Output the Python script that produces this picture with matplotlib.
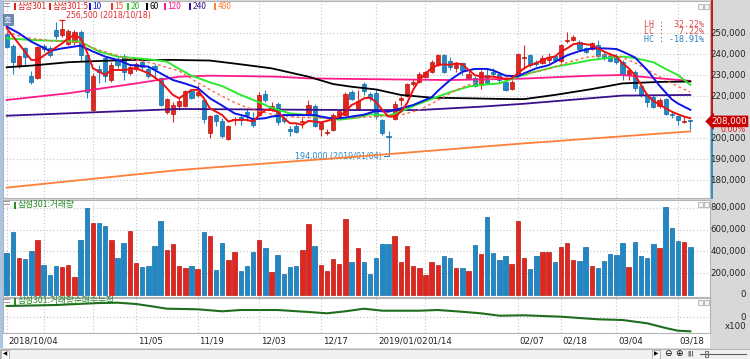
import matplotlib
matplotlib.use("Agg")
import matplotlib.pyplot as plt
import matplotlib.transforms as mtransforms
from matplotlib.patches import Rectangle

plt.rcParams['font.family'] = ['Noto Sans CJK KR', 'DejaVu Sans']

W, H = 750, 359
RED = '#e0261e'
RED_EDGE = '#b41a14'
BLUE = '#1f88c8'
BLUE_EDGE = '#176a9e'
GRID = '#c4c4c4'
TITLE_GREEN = '#2a8a2a'

# daily candles, 2018/10/04 .. 2019/03
opens = [249500, 244000, 235000, 243000, 229500, 228500, 244000, 243000, 251500, 249000,
         245000, 246000, 250500, 239500, 213500, 233000, 238000, 227500, 237500, 239000,
         231000, 233000, 236500, 233000, 234500, 228500, 212500, 211500, 215500, 215500,
         222500, 220500, 218000, 202500, 211000, 208000, 199500, 208500, 210000, 212500,
         209500, 211000, 221000, 213500, 216500, 209500, 204500, 206000, 207500, 211000,
         215500, 204500, 202500, 204000, 210000, 211000, 222000, 214000, 226000, 221000,
         221500, 208500, 201000, 209000, 218000, 220000, 226000, 227000, 229000, 231500,
         235000, 239500, 237000, 233500, 236000, 228500, 228500, 225500, 230000, 231500,
         230500, 227000, 223500, 230500, 238000, 239500, 236500, 236000, 237500, 239000,
         237000, 246500, 247000, 246000, 243000, 242500, 244500, 240000, 239000, 238500,
         236500, 230000, 231500, 225000, 220500, 219500, 215500, 218500, 211500, 210500,
         207500, 208500]
highs = [251000, 245000, 239500, 243500, 232000, 244000, 245000, 244000, 255500, 256500,
         252000, 251500, 251500, 240000, 231000, 235000, 238500, 236500, 239000, 240000,
         235000, 236500, 238000, 234500, 235500, 229000, 219000, 217000, 219000, 223000,
         223500, 225500, 219000, 211000, 211500, 209500, 206500, 210000, 211000, 214000,
         212500, 222000, 223000, 217000, 217000, 210500, 206000, 207000, 209500, 218000,
         216500, 208000, 204500, 212000, 213500, 222000, 223000, 223000, 227000, 222000,
         223000, 209000, 203500, 217500, 220000, 226500, 228000, 231500, 232000, 237500,
         240000, 240000, 238500, 236500, 236500, 232000, 229500, 232500, 233500, 233500,
         231500, 228500, 227500, 240500, 244500, 240000, 237500, 239500, 240500, 239500,
         245000, 250500, 249000, 247000, 243500, 246000, 247000, 241000, 240500, 240000,
         237500, 233000, 232500, 226000, 221500, 220500, 219000, 219000, 212500, 211000,
         210500, 208500]
lows = [243000, 230500, 233500, 235000, 226000, 228000, 241000, 238500, 247500, 248000,
        244500, 244500, 237000, 219000, 213000, 226500, 227000, 227000, 233500, 227500,
        230000, 232000, 232500, 228500, 229000, 215500, 211500, 207500, 213500, 215000,
        218500, 219500, 207000, 200000, 206000, 200000, 199000, 206500, 206500, 208000,
        205500, 210500, 217000, 213000, 206500, 207000, 201000, 202500, 205000, 210500,
        205500, 201000, 201500, 203500, 209500, 210500, 218000, 213500, 220500, 217500,
        209000, 201500, 194000, 208500, 215500, 219500, 225000, 226500, 228500, 231000,
        234500, 231000, 232500, 231500, 230000, 228000, 224500, 223500, 226000, 229000,
        226500, 222500, 223000, 230000, 233000, 234000, 234500, 235500, 236000, 236500,
        236000, 245500, 246500, 242000, 240500, 242000, 238000, 237500, 236500, 235500,
        227500, 227500, 222500, 219500, 215000, 214500, 214500, 211000, 209500, 206500,
        207000, 204000]
closes = [243500, 236500, 239000, 238500, 227000, 243500, 242500, 239500, 248500, 252000,
          251000, 250500, 239500, 222000, 229500, 231500, 229500, 235000, 235000, 231500,
          234000, 235500, 234000, 229500, 233000, 216000, 218500, 216000, 217500, 222500,
          219000, 222000, 209000, 210500, 208000, 201000, 206000, 209000, 208500, 211000,
          206500, 220500, 218000, 215500, 207500, 208000, 203500, 203000, 208000, 216000,
          206000, 207000, 203000, 211000, 213000, 221000, 218500, 217500, 222500, 219000,
          210500, 202500, 200500, 216500, 219000, 226000, 227000, 230500, 231500, 236500,
          239500, 231500, 234000, 235500, 232500, 230500, 225000, 231500, 226500, 230500,
          227500, 223000, 227000, 240000, 238500, 235000, 235500, 238000, 238500, 237500,
          244500, 247000, 248000, 242500, 241000, 245500, 239000, 238000, 237000, 236500,
          230500, 232500, 224000, 220500, 217000, 215000, 218000, 211500, 211000, 208500,
          208000, 208000]
volumes = [382000, 581000, 342000, 330000, 407000, 502000, 275000, 183000, 269000, 257000,
           275000, 162000, 502000, 795000, 660000, 660000, 630000, 508000, 336000, 474000,
           587000, 294000, 257000, 269000, 446000, 679000, 413000, 468000, 263000, 245000,
           263000, 239000, 581000, 544000, 226000, 477000, 324000, 391000, 220000, 269000,
           391000, 502000, 428000, 214000, 367000, 196000, 257000, 269000, 416000, 648000,
           446000, 275000, 220000, 330000, 287000, 697000, 300000, 434000, 306000, 196000,
           342000, 471000, 465000, 538000, 306000, 446000, 269000, 245000, 183000, 306000,
           275000, 361000, 336000, 251000, 251000, 220000, 459000, 379000, 716000, 385000,
           318000, 361000, 281000, 679000, 342000, 239000, 355000, 398000, 391000, 306000,
           440000, 477000, 324000, 312000, 440000, 269000, 245000, 312000, 379000, 367000,
           477000, 257000, 483000, 355000, 342000, 471000, 428000, 807000, 612000, 495000,
           483000, 440000]

# moving averages (bar index, price)
ma5_idx = [0, 4, 5, 7, 9, 10, 11, 12, 13, 14, 16, 17, 19, 21, 23, 25, 27, 28, 30, 31, 32, 33, 35, 36,
           37, 39, 40, 41, 42, 43, 44, 45, 46, 47, 48, 49, 50, 51, 52, 53, 54, 55, 56, 57, 58, 59, 60,
           61, 62, 63, 64, 65, 66, 67, 68, 69, 70, 71, 72, 73, 74, 75, 76, 77, 78, 79, 80, 81, 82, 83,
           84, 85, 86, 87, 88, 89, 90, 91, 92, 93, 94, 95, 96, 97, 98, 99, 100, 101, 102, 103, 104, 105,
           106, 107, 108, 109, 110, 111]
ma5_val = [252400, 237300, 237300, 241300, 245200, 247600, 249200, 247600, 241300, 233300, 230100,
           232500, 232500, 233300, 231000, 227000, 220600, 219000, 223000, 223000, 219000, 214200,
           211000, 207900, 208700, 208700, 207900, 211000, 213400, 213400, 212600, 209500, 207100,
           207100, 206300, 208200, 207900, 207500, 208200, 209100, 210300, 212600, 215800, 217100,
           219000, 219300, 217100, 213400, 210300, 210300, 212600, 216600, 223000, 227700, 230900,
           233300, 234900, 235200, 234900, 235700, 235200, 232500, 230100, 229300, 229300, 229300,
           228900, 228200, 228500, 230900, 233300, 234900, 235700, 237300, 238400, 238900, 241300,
           242800, 244800, 245200, 244800, 244400, 242800, 241300, 240000, 238900, 235700, 233300,
           230100, 225400, 220600, 217700, 216100, 214200, 212600, 211400, 210300, 209500]
ma10_idx = [0, 2, 4, 7, 9, 12, 14, 16, 18, 20, 23, 25, 27, 29, 31, 33, 35, 37, 39, 40, 42, 43, 45,
            48, 50, 51, 53, 55, 56, 58, 60, 62, 64, 66, 69, 70, 72, 74, 76, 78, 79, 81, 83, 84, 86,
            88, 91, 93, 95, 97, 99, 100, 102, 104, 106, 108, 109, 111]
ma10_val = [253200, 250000, 246000, 241600, 242800, 244100, 241300, 238900, 237300, 234900, 234100,
            230900, 227700, 226000, 224000, 219000, 215500, 211800, 210300, 209000, 209500, 210300,
            211000, 211000, 211000, 210300, 209300, 209800, 210300, 211200, 213000, 212600, 214200,
            215800, 219500, 222500, 227700, 231700, 233000, 233000, 232300, 229800, 229500, 230900,
            233300, 234800, 239500, 241500, 242800, 242800, 242500, 241300, 238500, 232500, 225000,
            218500, 216500, 213500]
ma15_idx = [0, 3, 7, 12, 15, 19, 24, 28, 31, 34, 37, 40, 43, 47, 51, 55, 58, 61, 64, 67, 70, 73, 76,
            79, 82, 85, 88, 91, 94, 97, 99, 102, 105, 108, 111]
ma15_val = [250500, 248000, 246500, 245500, 242000, 238500, 235500, 232000, 226500, 221500, 217000,
            213500, 211500, 210000, 209500, 209500, 210000, 210500, 211000, 213500, 218000, 223000,
            226500, 228500, 229500, 231000, 233000, 236000, 238500, 239500, 239500, 236000, 231000,
            226000, 222000]
ma20_idx = [0, 4, 10, 12, 15, 18, 21, 24, 26, 28, 30, 33, 35, 38, 41, 43, 46, 49, 52, 54, 57, 59, 62,
            64, 66, 69, 72, 75, 77, 80, 83, 85, 89, 95, 98, 100, 102, 105, 107, 109, 111]
ma20_val = [247600, 246800, 246200, 246000, 241300, 238900, 238100, 237300, 236500, 233000, 229800,
            226600, 224800, 220600, 217100, 214500, 211800, 211000, 209500, 208800, 209800, 211400,
            210700, 212600, 215300, 218700, 221900, 224600, 225400, 226100, 229300, 231000, 234000,
            237300, 238400, 238900, 238200, 236200, 233000, 230100, 225400]
ma60_idx = [0, 4, 10, 15, 20, 27, 33, 38, 43, 49, 53, 56, 60, 64, 69, 75, 80, 84, 89, 95, 100, 106, 111]
ma60_val = [233800, 234600, 236200, 236800, 237300, 237300, 237000, 235200, 233300, 229300, 225800,
            224500, 223200, 220600, 219300, 219000, 218700, 218600, 220600, 223400, 226100, 226800,
            227000]
ma120_idx = [0, 10, 21, 28, 33, 44, 49, 57, 72, 84, 95, 100, 106, 111]
ma120_val = [218200, 221400, 226100, 229300, 229800, 229300, 228500, 228200, 227700, 228400, 229800,
             230100, 228500, 227300]
ma240_idx = [0, 28, 56, 67, 77, 84, 91, 100, 111]
ma240_val = [210700, 213900, 213400, 213400, 215000, 216400, 218100, 220300, 220600]
ma480_idx = [0, 28, 56, 84, 111]
ma480_val = [176400, 184800, 191000, 197500, 203200]

# bottom indicator (x100)
cum_idx = [0, 8, 15, 18, 21, 24, 26, 31, 35, 38, 44, 49, 52, 55, 58, 61, 67, 70, 73, 77, 80, 84,
           90, 96, 100, 104, 107, 109, 111]
cum_val = [110000, 120000, 140000, 143000, 130000, 103000, 83000, 77000, 57000, 70000, 70000, 50000,
           37000, 57000, 83000, 63000, 63000, 70000, 57000, 37000, 13000, 17000, 3000, -23000,
           -30000, -63000, -110000, -137000, -143000]

date_idx = [0, 21, 31, 41, 51, 60, 68, 83, 90, 99, 109]
date_labels = ['2018/10/04', '11/05', '11/19', '12/03', '12/17', '2019/01/02', '01/14',
               '02/07', '02/18', '03/04', '03/18']
grid_idx = [0, 6, 14, 21, 31, 41, 51, 60, 68, 83, 90, 99, 109]
price_ticks = [180000, 190000, 200000, 210000, 220000, 230000, 240000, 250000]
price_labels = [180000, 190000, 200000, 220000, 230000, 240000, 250000]  # 210,000 sits under the tag
vol_ticks = [0, 200000, 400000, 600000, 800000]

last_price = 208000
low_price, low_idx = 194000, 62
high_price, high_idx = 256500, 9


def rect(x0, y0, x1, y1):
    return [x0 / W, 1 - y1 / H, (x1 - x0) / W, (y1 - y0) / H]


def fx(px):
    return px / W


def fy(py):
    return 1 - py / H


def fig_box(x0, y0, x1, y1, **kw):
    fig.patches.append(Rectangle((fx(x0), fy(y1)), (x1 - x0) / W, (y1 - y0) / H,
                                 transform=fig.transFigure, **kw))


fig = plt.figure(figsize=(7.5, 3.59), dpi=100, facecolor='#d8d8d8')
fig_box(3, 333, 710, 348, fc='white', ec='none', zorder=-2)
fig_box(0, 0, 2.5, 348, fc='#a9c4e4', ec='none', zorder=-2)

ax = fig.add_axes(rect(3, 1, 710, 198))
axv = fig.add_axes(rect(3, 200, 710, 297), sharex=ax)
axc = fig.add_axes(rect(3, 298, 710, 333), sharex=ax)

for a in (ax, axv, axc):
    a.set_facecolor('white')
    for s in a.spines.values():
        s.set_color('#b4b4b4')
        s.set_linewidth(0.8)
    a.tick_params(length=0, labelleft=False, labelbottom=False, labelright=False)
    a.grid(True, color=GRID, linestyle=(0, (1, 2)), linewidth=0.8)
    a.set_axisbelow(True)

ax.set_xticks(grid_idx)
ax.set_xlim(-0.6, 114.2)
ax.set_ylim(171450, 265400)
ax.set_yticks(price_ticks)
axv.set_ylim(-18350, 871560)
axv.set_yticks(vol_ticks[1:])
axc.set_ylim(-160000, 190000)
axc.set_yticks([0])

n = len(opens)
idx = list(range(n))
cols = [RED if c > o else BLUE for o, c in zip(opens, closes)]
edges = [RED_EDGE if c > o else BLUE_EDGE for o, c in zip(opens, closes)]

# candles
ax.vlines(idx, lows, highs, colors=cols, linewidth=0.8, zorder=3)
bottoms = [min(o, c) for o, c in zip(opens, closes)]
heights = [max(abs(c - o), 350) for o, c in zip(opens, closes)]
ax.bar(idx, heights, width=0.68, bottom=bottoms, color=cols, edgecolor=edges,
       linewidth=0.5, zorder=4)

# moving averages
ax.plot(ma480_idx, ma480_val, color='#ff7f3a', lw=1.3, zorder=5)
ax.plot(ma240_idx, ma240_val, color='#3c0f8c', lw=1.3, zorder=5)
ax.plot(ma120_idx, ma120_val, color='#ff1a8c', lw=1.3, zorder=5)
ax.plot(ma60_idx, ma60_val, color='black', lw=1.3, zorder=5)
ax.plot(ma20_idx, ma20_val, color='#2ee82e', lw=1.4, zorder=5)
ax.plot(ma15_idx, ma15_val, color='#ff6a4a', lw=1.0, ls=(0, (2, 2)), zorder=5)
ax.plot(ma10_idx, ma10_val, color='#0a14e6', lw=1.4, zorder=6)
ax.plot(ma5_idx, ma5_val, color='#f01010', lw=1.4, zorder=6)

# high / low marks
ax.hlines(high_price, high_idx - 0.5, high_idx + 0.5, color=RED, lw=0.9, zorder=6)
ax.annotate('256,500 (2018/10/18)', xy=(high_idx, high_price), xytext=(3, 3),
            textcoords='offset points', ha='left', va='center', color='#e02a2a', fontsize=5.6,
            family='DejaVu Sans')
ax.annotate('194,000 (2019/01/04)', xy=(low_idx, low_price), xytext=(-5, -4),
            textcoords='offset points', ha='right', va='center', color='#2a8ac8', fontsize=5.8,
            family='DejaVu Sans',
            arrowprops=dict(arrowstyle='-', color='#2a8ac8', lw=0.8, shrinkA=0, shrinkB=0,
                            connectionstyle='angle,angleA=0,angleB=90,rad=0'))

# volume
axv.bar(idx, volumes, width=0.72, color=cols, edgecolor=edges, linewidth=0.5, zorder=3)

# cumulative line
axc.plot(cum_idx, cum_val, color='#1e6e1e', lw=1.5, zorder=3)

# right-hand axis labels
tr_main = mtransforms.blended_transform_factory(fig.transFigure, ax.transData)
tr_vol = mtransforms.blended_transform_factory(fig.transFigure, axv.transData)
tr_cum = mtransforms.blended_transform_factory(fig.transFigure, axc.transData)
lab_kw = dict(ha='right', va='center', fontsize=6.2, color='#222222', clip_on=False,
              family='DejaVu Sans')
for p in price_labels:
    ax.text(fx(746), p, f'{p:,}', transform=tr_main, **lab_kw)
for v in vol_ticks:
    axv.text(fx(746), v, f'{v:,}', transform=tr_vol, **lab_kw)
axc.text(fx(746), 0, '0', transform=tr_cum, **lab_kw)
axc.text(fx(746), -95000, 'x100', transform=tr_cum, **lab_kw)

# current price marker on the right
ylo, yhi = ax.get_ylim()
ax.plot([fx(711.5)] * 2, [yhi, last_price], transform=tr_main, color='#d00000', lw=1.3,
        clip_on=False)
ax.plot([fx(711.5)] * 2, [last_price, ylo], transform=tr_main, color='#1f88c8', lw=1.3,
        clip_on=False)
ax.text(fx(747), last_price, f'{last_price:,}', transform=tr_main, ha='right', va='center',
        color='white', fontsize=6.2, family='DejaVu Sans', clip_on=False, zorder=10,
        bbox=dict(boxstyle='larrow,pad=0.15', fc='#c80000', ec='none'))
ax.text(fx(746), 204000, '0.00%', transform=tr_main, ha='right', va='center', color='#e02020',
        fontsize=5.8, family='DejaVu Sans', clip_on=False)

mono = dict(ha='right', va='center', fontsize=6, family='DejaVu Sans Mono')
fig.text(fx(704), fy(24.5), 'LH :  32.22%', color='#e04848', **mono)
fig.text(fx(704), fy(32), 'LC :   7.22%', color='#e04848', **mono)
fig.text(fx(704), fy(39.5), 'HC : -18.91%', color='#2a80c0', **mono)

# legend row
legend_items = [(14, '삼성301', '#e02020', '#e02020'), (49, '삼성301:5', '#e02020', '#e02020'),
                (89, '10', '#0a14e6', '#0a14e6'), (111, '15', '#ff3030', '#ff5040'),
                (127, '20', '#22cc22', '#22bb22'), (146, '60', 'black', 'black'),
                (164, '120', '#ff1a8c', '#ff1a8c'), (189, '240', '#3c0f8c', '#3c0f8c'),
                (214, '480', '#ff7f3a', '#ff7f3a')]
for x0, txt, mk, tc in legend_items:
    fig_box(x0, 3, x0 + 2, 9.5, fc=mk, ec='none')
    fig.text(fx(x0 + 3.5), fy(6.3), txt, color=tc, fontsize=6, ha='left', va='center')

# panel handles, titles, small buttons
for y in (3, 201, 299):
    fig_box(2.5, y, 10, y + 1.2, fc='#a0a0a0', ec='none')
    fig_box(2.5, y + 3, 10, y + 4.2, fc='#a0a0a0', ec='none')
    fig_box(698, y + 1, 703, y + 6, fc='#f4f4f4', ec='#a0a0a0', lw=0.5)
    fig_box(704, y + 1, 709, y + 6, fc='#f4f4f4', ec='#a0a0a0', lw=0.5)
fig_box(14, 201.5, 16, 208.5, fc=TITLE_GREEN, ec='none')
fig.text(fx(17.5), fy(205), '삼성301:거래량', color=TITLE_GREEN, fontsize=6.3, ha='left', va='center')
fig_box(14, 297.5, 16, 304.5, fc=TITLE_GREEN, ec='none')
fig.text(fx(17.5), fy(301), '삼성301:거래량순매수누적', color=TITLE_GREEN, fontsize=6.3,
         ha='left', va='center')

fig_box(2.5, 14, 13, 25, fc='#6f8bb4', ec='#4d6a94', lw=0.5)
fig.text(fx(7.7), fy(19.5), '호', color='white', fontsize=6, ha='center', va='center')

# date labels
tr_date = mtransforms.blended_transform_factory(axc.transData, fig.transFigure)
for i, lab in zip(date_idx, date_labels):
    axc.text(i + 0.3, fy(341), lab, transform=tr_date, ha='left', va='center', fontsize=6.2,
             color='#222222', family='DejaVu Sans', clip_on=False)

# scrollbar strip
fig_box(0, 349, 750, 359, fc='#f0f0f0', ec='#a8a8a8', lw=0.6)
fig_box(0.5, 349.5, 9, 358.5, fc='#f8f8f8', ec='#a8a8a8', lw=0.6)
fig.text(fx(4.8), fy(354), '◀', fontsize=4, ha='center', va='center', family='DejaVu Sans')
fig_box(652, 349.5, 660, 358.5, fc='#f8f8f8', ec='#a8a8a8', lw=0.6)
fig.text(fx(656), fy(354), '▶', fontsize=4, ha='center', va='center', family='DejaVu Sans')
fig.text(fx(668), fy(354), '⊖', fontsize=6.5, ha='center', va='center', family='DejaVu Sans')
fig.text(fx(679), fy(354), '⊕', fontsize=6.5, ha='center', va='center', family='DejaVu Sans')
fig.text(fx(690), fy(353.5), '|||', fontsize=4.5, ha='center', va='center', family='DejaVu Sans')
fig.lines.append(plt.Line2D([fx(700), fx(746)], [fy(354)] * 2, transform=fig.transFigure,
                            color='#606060', lw=0.8))
fig_box(705, 351, 708, 357, fc='#e0e0e0', ec='#606060', lw=0.6)

fig.savefig('out.png', dpi=100, facecolor=fig.get_facecolor())
